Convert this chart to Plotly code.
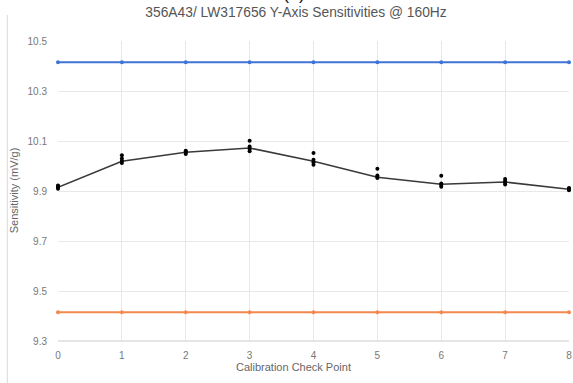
import plotly.graph_objects as go

# Calibration check points
check_points = [0, 1, 2, 3, 4, 5, 6, 7, 8]

# Average sensitivity at each check point (mV/g)
avg_sensitivity = [9.915, 10.019, 10.055, 10.072, 10.019, 9.955, 9.927, 9.936, 9.907]

# Individual readings at each check point (mV/g)
reading_x = [0, 0, 0, 0,
             1, 1, 1, 1,
             2, 2, 2, 2,
             3, 3, 3, 3,
             4, 4, 4, 4,
             5, 5, 5, 5,
             6, 6, 6, 6,
             7, 7, 7, 7,
             8, 8, 8, 8]
reading_y = [9.909, 9.914, 9.919, 9.922,
             10.012, 10.020, 10.030, 10.043,
             10.048, 10.053, 10.058, 10.061,
             10.059, 10.068, 10.078, 10.101,
             10.005, 10.015, 10.025, 10.052,
             9.952, 9.957, 9.962, 9.989,
             9.917, 9.924, 9.930, 9.961,
             9.926, 9.933, 9.940, 9.948,
             9.903, 9.906, 9.909, 9.912]

# Tolerance limits (±5 % of nominal)
upper_limit = [10.415] * len(check_points)
lower_limit = [9.415] * len(check_points)

y_ticks = [9.3, 9.5, 9.7, 9.9, 10.1, 10.3, 10.5]

fig = go.Figure()

fig.add_trace(go.Scatter(
    x=check_points, y=upper_limit, mode="lines+markers",
    line=dict(color="#3f74d6", width=2),
    marker=dict(color="#3f74d6", size=4),
    showlegend=False, cliponaxis=False,
))
fig.add_trace(go.Scatter(
    x=check_points, y=lower_limit, mode="lines+markers",
    line=dict(color="#f2894e", width=2),
    marker=dict(color="#f2894e", size=4),
    showlegend=False, cliponaxis=False,
))
fig.add_trace(go.Scatter(
    x=check_points, y=avg_sensitivity, mode="lines",
    line=dict(color="#3a3a3a", width=1.6),
    showlegend=False, cliponaxis=False,
))
fig.add_trace(go.Scatter(
    x=reading_x, y=reading_y, mode="markers",
    marker=dict(color="#000000", size=4),
    showlegend=False, cliponaxis=False,
))

font_family = "Arial, 'Liberation Sans', sans-serif"

# plot area in pixels: left 58, right 572, top 41, bottom 341
PW, PH = 514, 300

fig.update_layout(
    width=573, height=383,
    margin=dict(l=58, r=1, t=41, b=42),
    paper_bgcolor="white", plot_bgcolor="white",
    font=dict(family=font_family, color="#666666", size=10),
    title=dict(
        text="356A43/ LW317656 Y-Axis Sensitivities @ 160Hz",
        x=296 / 573, xanchor="center", xref="container",
        y=1 - 12 / 383, yanchor="middle", yref="container",
        font=dict(size=13.8, color="#555555", family=font_family),
    ),
    xaxis=dict(
        range=[0, 8], tickmode="array", tickvals=check_points,
        showgrid=True, gridcolor="#e8e8e8", gridwidth=1,
        zeroline=False, showline=False,
        ticks="outside", ticklen=5, tickcolor="rgba(0,0,0,0)",
        ticklabeloverflow="allow",
        tickfont=dict(size=10, color="#777777"),
    ),
    yaxis=dict(
        range=[9.3, 10.5], tickmode="array", tickvals=y_ticks,
        ticktext=[f"{v:g}" for v in y_ticks],
        showgrid=True, gridcolor="#e8e8e8", gridwidth=1,
        zeroline=False, showline=False,
        ticks="outside", ticklen=8, tickcolor="rgba(0,0,0,0)",
        tickfont=dict(size=10, color="#777777"),
    ),
    shapes=[
        # panel border on the left
        dict(type="line", xref="paper", yref="paper",
             x0=-51 / PW, x1=-51 / PW, y0=(341 - 383) / PH, y1=(341 - 15) / PH,
             line=dict(color="#d9d9d9", width=1)),
        # baseline
        dict(type="line", xref="paper", yref="paper",
             x0=0, x1=1, y0=0, y1=0,
             line=dict(color="#cccccc", width=1)),
    ],
    annotations=[
        dict(text="(b)", xref="paper", yref="paper",
             x=(295 - 58) / PW, y=(341 - 5) / PH,
             xanchor="center", yanchor="bottom", showarrow=False,
             font=dict(size=18, color="#222222", family=font_family)),
        dict(text="Calibration Check Point", xref="paper", yref="paper",
             x=(295 - 58) / PW, y=(341 - 367) / PH,
             xanchor="center", yanchor="middle", showarrow=False,
             font=dict(size=11, color="#666666", family=font_family)),
        dict(text="Sensitivity (mV/g)", xref="paper", yref="paper",
             x=(14 - 58) / PW, y=(341 - 190) / PH, textangle=-90,
             xanchor="center", yanchor="middle", showarrow=False,
             font=dict(size=11, color="#666666", family=font_family)),
    ],
)

fig.write_html("out.html")
